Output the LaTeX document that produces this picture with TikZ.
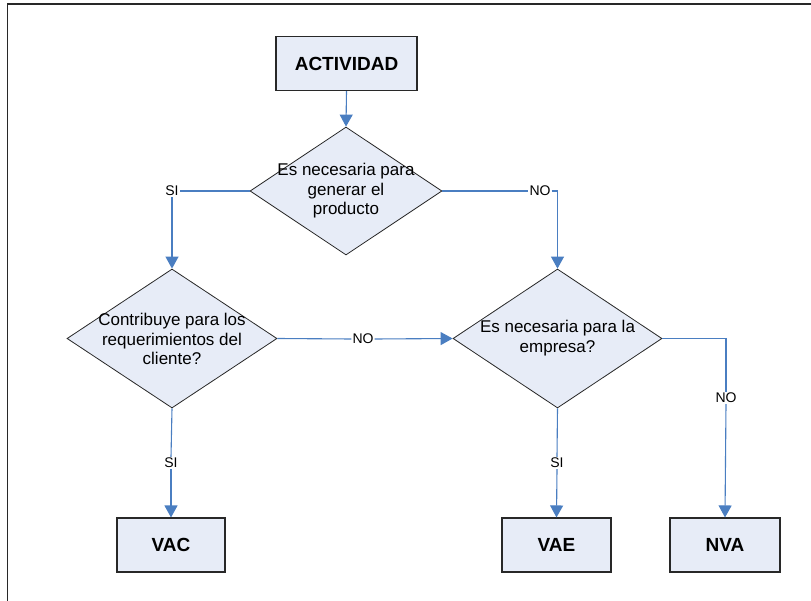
\documentclass[tikz,border=0pt]{standalone}
\usepackage{fontspec}
\setmainfont{Liberation Sans}
\usetikzlibrary{shapes.geometric,arrows.meta}
\definecolor{boxfill}{RGB}{231,236,247}
\definecolor{conncol}{RGB}{74,126,193}
\definecolor{edgecol}{RGB}{40,40,40}
\tikzset{
  boxnode/.style={draw=edgecol,line width=1.1pt,fill=boxfill,minimum height=54pt,inner sep=0pt,
    font=\fontsize{19}{22}\selectfont\bfseries},
  decision/.style={draw=edgecol,line width=0.8pt,fill=boxfill,shape=diamond,inner sep=0pt},
  dtext/.style={align=center,inner sep=0pt,font=\fontsize{17}{19.5}\selectfont},
  lab/.style={fill=white,inner sep=1pt,font=\fontsize{14}{16}\selectfont},
  conn/.style={draw=conncol,line width=1.1pt},
  arr/.style={conn,-{Triangle[length=12pt,width=13pt]}},
}
\begin{document}
\begin{tikzpicture}[x=1pt,y=-1pt]
\useasboundingbox (0,0) rectangle (811,601);
\draw[edgecol,line width=1.3pt] (7.5,601) -- (7.5,4) -- (811,4);

\node[boxnode,minimum width=141pt] (act) at (346.5,63.5) {ACTIVIDAD};

\node[decision,minimum width=192pt,minimum height=128pt] (d1) at (346,191) {};
\node[dtext] (d1t) at (346,191) {Es necesaria para\\generar el\\producto};

\node[decision,minimum width=210pt,minimum height=139pt] (d2) at (172,338.5) {};
\node[dtext] (d2t) at (172,339) {Contribuye para los\\requerimientos del\\cliente?};

\node[decision,minimum width=209pt,minimum height=139pt] (d3) at (557.5,338.5) {};
\node[dtext] (d3t) at (557.5,338) {Es necesaria para la\\empresa?};

\node[boxnode,minimum width=108pt] (vac) at (171,545) {VAC};
\node[boxnode,minimum width=109pt] (vae) at (556.5,545) {VAE};
\node[boxnode,minimum width=110pt] (nva) at (725,545) {NVA};

\node[lab] (si1) at (172,191) {SI};
\node[lab] (no1) at (540,191) {NO};
\node[lab] (no2) at (363,339) {NO};
\node[lab] (no3) at (726,398) {NO};
\node[lab] (si2) at (171,463) {SI};
\node[lab] (si3) at (557,463) {SI};
\coordinate (k1) at (557.5,191);
\coordinate (k2) at (726,338.5);

\draw[arr] (act.south) -- (d1.north);
\draw[conn] (d1.west) -- (si1.east);
\draw[arr] (si1.south) -- (d2.north);
\draw[conn] (d1.east) -- (no1.west);
\draw[arr] (no1.east) -- (k1) -- (d3.north);
\draw[conn] (d2.east) -- (no2.west);
\draw[arr] (no2.east) -- (d3.west);
\draw[conn] (d3.east) -- (k2) -- (no3.north);
\draw[arr] (no3.south) -- (nva.north);
\draw[conn] (d2.south) -- (si2.north);
\draw[arr] (si2.south) -- (vac.north);
\draw[conn] (d3.south) -- (si3.north);
\draw[arr] (si3.south) -- (vae.north);
\end{tikzpicture}
\end{document}
